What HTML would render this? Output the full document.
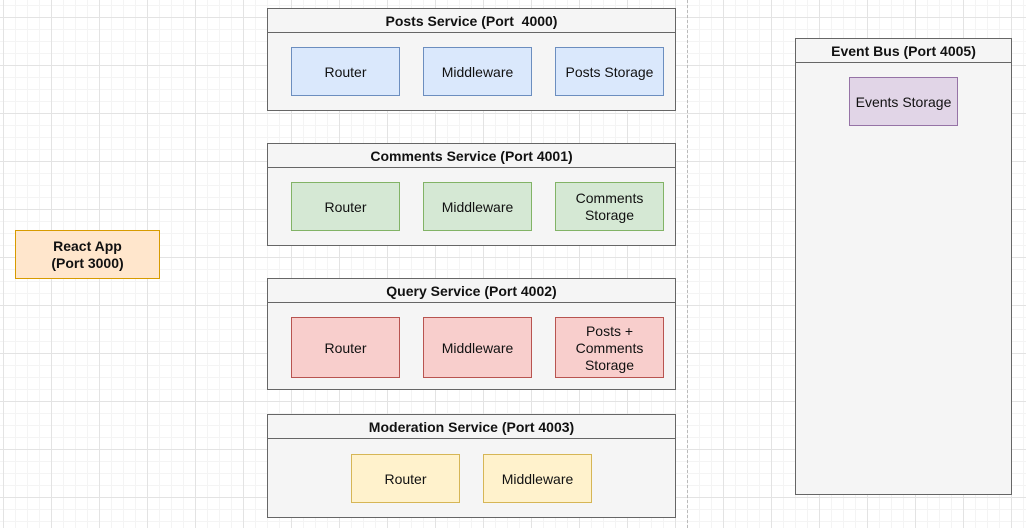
<!DOCTYPE html>
<html><head><style>
*{box-sizing:border-box;margin:0;padding:0}
body{width:1026px;height:528px;overflow:hidden;position:relative;font-family:"Liberation Sans",Arial,sans-serif;font-size:14px;color:#111;
background-color:#fff;
background-image:
linear-gradient(to right,#e3e3e3 1px,transparent 1px),
linear-gradient(to bottom,#e3e3e3 1px,transparent 1px),
linear-gradient(to right,#f4f4f4 1px,transparent 1px),
linear-gradient(to bottom,#f4f4f4 1px,transparent 1px);
background-size:48px 48px,48px 48px,12px 12px,12px 12px;
background-position:3px 17px,3px 17px,3px 5px,3px 5px;}
.a{position:absolute;display:flex;align-items:center;justify-content:center;text-align:center;line-height:17px;padding-top:1px}
.c{position:absolute;background:#f5f5f5;border:1px solid #666}
.h{position:absolute;left:0;right:0;top:0;height:24px;border-bottom:1px solid #666;font-weight:bold;display:flex;align-items:center;justify-content:center;padding-top:1px}
.b{border:1px solid #6c8ebf;background:#dae8fc}
.g{border:1px solid #82b366;background:#d5e8d4}
.r{border:1px solid #b85450;background:#f8cecc}
.y{border:1px solid #d6b656;background:#fff2cc}
.p{border:1px solid #9673a6;background:#e1d5e7}
</style></head><body>
<div style="position:absolute;left:687px;top:0;height:528px;border-left:1px dashed #bbb"></div>

<div class="c" style="left:267px;top:8px;width:409px;height:103px"><div class="h">Posts Service (Port &nbsp;4000)</div></div>
<div class="a b" style="left:291px;top:47px;width:109px;height:49px">Router</div>
<div class="a b" style="left:423px;top:47px;width:109px;height:49px">Middleware</div>
<div class="a b" style="left:555px;top:47px;width:109px;height:49px">Posts Storage</div>

<div class="c" style="left:267px;top:143px;width:409px;height:103px"><div class="h">Comments Service (Port 4001)</div></div>
<div class="a g" style="left:291px;top:182px;width:109px;height:49px">Router</div>
<div class="a g" style="left:423px;top:182px;width:109px;height:49px">Middleware</div>
<div class="a g" style="left:555px;top:182px;width:109px;height:49px">Comments<br>Storage</div>

<div class="c" style="left:267px;top:278px;width:409px;height:112px"><div class="h">Query Service (Port 4002)</div></div>
<div class="a r" style="left:291px;top:317px;width:109px;height:61px">Router</div>
<div class="a r" style="left:423px;top:317px;width:109px;height:61px">Middleware</div>
<div class="a r" style="left:555px;top:317px;width:109px;height:61px">Posts +<br>Comments<br>Storage</div>

<div class="c" style="left:267px;top:414px;width:409px;height:104px"><div class="h">Moderation Service (Port 4003)</div></div>
<div class="a y" style="left:351px;top:454px;width:109px;height:49px">Router</div>
<div class="a y" style="left:483px;top:454px;width:109px;height:49px">Middleware</div>

<div class="c" style="left:795px;top:38px;width:217px;height:457px"><div class="h">Event Bus (Port 4005)</div></div>
<div class="a p" style="left:849px;top:77px;width:109px;height:49px">Events Storage</div>

<div class="a" style="left:15px;top:230px;width:145px;height:49px;border:1px solid #d79b00;background:#ffe6cc;font-weight:bold">React App<br>(Port 3000)</div>
</body></html>
